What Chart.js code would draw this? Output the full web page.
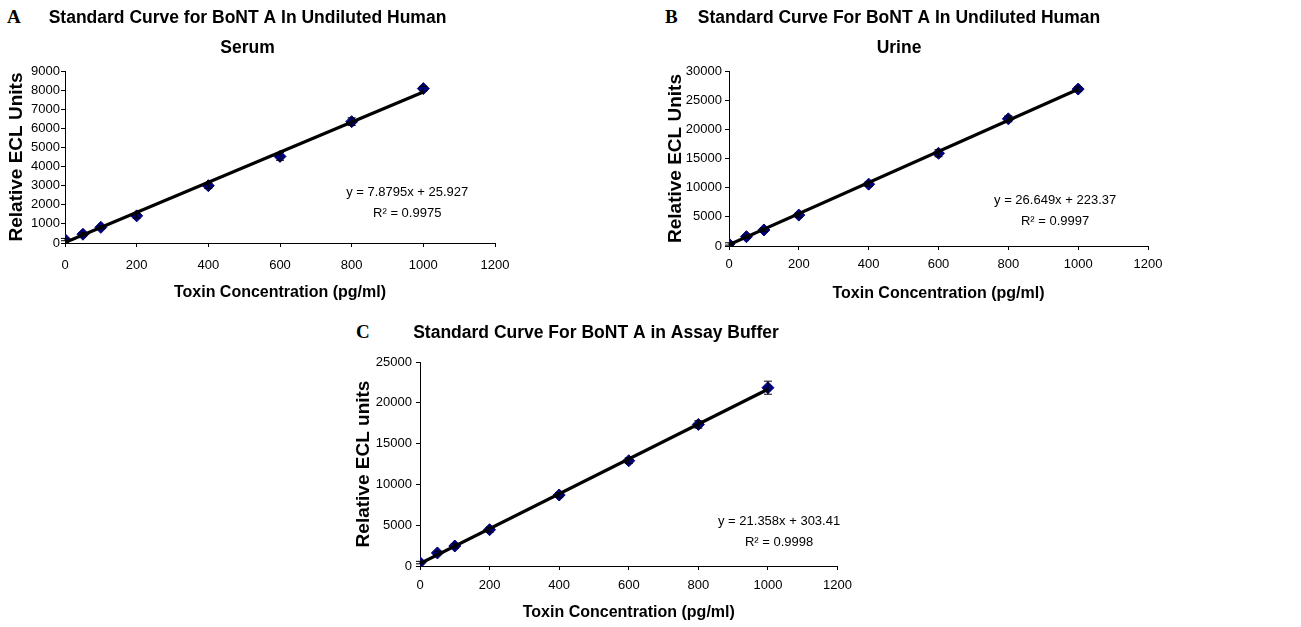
<!DOCTYPE html>
<html>
<head>
<meta charset="utf-8">
<script src="https://cdn.jsdelivr.net/npm/chart.js@4"></script>
<style>
  body { margin: 0; background: #fff; width: 1301px; height: 627px; position: relative; overflow: hidden; }
  canvas { position: absolute; }
  .panel { position: absolute; font-family: "Liberation Serif", "Times New Roman", serif; font-weight: bold; font-size: 19px; color: #000; }
</style>
</head>
<body>
<div class="panel" style="left:7px; top:6px;">A</div>
<div class="panel" style="left:665px; top:6px;">B</div>
<div class="panel" style="left:356px; top:321px;">C</div>

<canvas id="chartA" width="522" height="310" style="left:0; top:0;"></canvas>
<canvas id="chartB" width="532" height="310" style="left:650px; top:0;"></canvas>
<canvas id="chartC" width="510" height="327" style="left:350px; top:300px;"></canvas>

<script>
/* ================= DATA ================= */
const conc = [0, 50, 100, 200, 400, 600, 800, 1000];

const serumEcl = [180, 460, 820, 1420, 3000, 4530, 6350, 8080];
const serumErr = [60, 80, 90, 120, 150, 200, 200, 120];
const serumFit = { slope: 7.8795, intercept: 25.927, r2: "0.9975" };

const urineEcl = [350, 1600, 2750, 5300, 10600, 15900, 21800, 26900];
const urineErr = [200, 300, 300, 400, 400, 600, 500, 400];
const urineFit = { slope: 26.649, intercept: 223.37, r2: "0.9997" };

const bufferEcl = [420, 1600, 2450, 4450, 8700, 12900, 17350, 21850];
const bufferErr = [150, 200, 250, 300, 300, 350, 450, 800];
const bufferFit = { slope: 21.358, intercept: 303.41, r2: "0.9998" };

const xTicks = [0, 200, 400, 600, 800, 1000, 1200];

const FONT = "'Liberation Sans', Arial, Helvetica, sans-serif";
const MARKER = "#00007a";

/* ================= PLUGINS ================= */
const errorBars = {
  id: "errorBars",
  afterDatasetsDraw(chart) {
    const { ctx, scales } = chart;
    chart.data.datasets.forEach((ds) => {
      if (!ds.errors) return;
      ctx.save();
      ctx.strokeStyle = "#000";
      ctx.lineWidth = 1;
      ds.data.forEach((p, i) => {
        const e = ds.errors[i];
        const x = scales.x.getPixelForValue(p.x);
        const y1 = scales.y.getPixelForValue(p.y + e);
        const y2 = scales.y.getPixelForValue(p.y - e);
        ctx.beginPath();
        ctx.moveTo(x, y1); ctx.lineTo(x, y2);
        ctx.moveTo(x - 4, y1); ctx.lineTo(x + 4, y1);
        ctx.moveTo(x - 4, y2); ctx.lineTo(x + 4, y2);
        ctx.stroke();
      });
      ctx.restore();
    });
  }
};

const equation = {
  id: "equation",
  afterDraw(chart, args, opts) {
    if (!opts.lines) return;
    const { ctx, scales } = chart;
    const x = scales.x.getPixelForValue(opts.x);
    const y = scales.y.getPixelForValue(opts.y);
    ctx.save();
    ctx.font = "13px " + FONT;
    ctx.fillStyle = "#000";
    ctx.textAlign = "center";
    ctx.textBaseline = "middle";
    opts.lines.forEach((t, i) => ctx.fillText(t, x, y + i * 21));
    ctx.restore();
  }
};

/* ================= CHART BUILDER ================= */
function makeChart(id, cfg) {
  const fitX = [0, 1000];
  const fitLine = fitX.map((x) => ({ x, y: cfg.fit.slope * x + cfg.fit.intercept }));
  const points = conc.map((x, i) => ({ x, y: cfg.values[i] }));

  return new Chart(document.getElementById(id), {
    type: "scatter",
    data: {
      datasets: [
        {
          type: "line",
          data: fitLine,
          borderColor: "#000",
          borderWidth: 3.2,
          pointRadius: 0,
          order: 0
        },
        {
          data: points,
          errors: cfg.errors,
          pointStyle: "rectRot",
          pointRadius: 6,
          backgroundColor: MARKER,
          borderColor: MARKER,
          borderWidth: 1,
          order: 1
        }
      ]
    },
    options: {
      responsive: false,
      animation: false,
      events: [],
      layout: { padding: { top: 0, left: 0, right: cfg.padRight, bottom: 0 } },
      plugins: {
        legend: { display: false },
        tooltip: { enabled: false },
        title: {
          display: true,
          text: cfg.title,
          color: "#000",
          font: { family: FONT, size: 17.5, weight: "bold", lineHeight: 30 / 17.5 },
          padding: cfg.titlePad
        },
        equation: {
          lines: ["y = " + cfg.fit.slope + "x + " + cfg.fit.intercept, "R\u00b2 = " + cfg.fit.r2],
          x: cfg.eqX,
          y: cfg.eqY
        }
      },
      scales: {
        x: {
          type: "linear",
          min: 0,
          max: 1200,
          afterBuildTicks: (s) => { s.ticks = xTicks.map((v) => ({ value: v })); },
          afterFit: (s) => { s.height = cfg.xHeight; },
          ticks: { color: "#000", font: { family: FONT, size: 13 }, padding: cfg.xTickPad, maxRotation: 0, callback: (v) => String(v) },
          grid: { drawOnChartArea: false, color: "#000", tickLength: 4 },
          border: { color: "#000", width: 1 },
          title: {
            display: true,
            text: "Toxin Concentration (pg/ml)",
            color: "#000",
            font: { family: FONT, size: 16, weight: "bold" },
            padding: { top: 0, bottom: cfg.xTitlePad }
          }
        },
        y: {
          min: 0,
          max: cfg.yMax,
          ticks: { stepSize: cfg.yStep, color: "#000", font: { family: FONT, size: 13 }, padding: cfg.yTickPad, callback: (v) => String(v) },
          afterFit: (s) => { s.width = cfg.yWidth; },
          grid: { drawOnChartArea: false, color: "#000", tickLength: 4 },
          border: { color: "#000", width: 1 },
          title: {
            display: true,
            text: cfg.yTitle,
            color: "#000",
            font: { family: FONT, size: 19, weight: "bold" },
            padding: { top: cfg.yTitlePad, bottom: 0 }
          }
        }
      }
    },
    plugins: [errorBars, equation]
  });
}

/* ================= CHARTS ================= */
makeChart("chartA", {
  title: ["Standard Curve for BoNT A In Undiluted Human", "Serum"],
  titlePad: { top: 3, bottom: 8 },
  values: serumEcl, errors: serumErr, fit: serumFit,
  yMax: 9000, yStep: 1000, yTitle: "Relative ECL Units",
  padRight: 27, xHeight: 67, xTickPad: 11, xTitlePad: 8,
  yWidth: 65, yTickPad: 1, yTitlePad: 5,
  eqX: 955, eqY: 2670
});

makeChart("chartB", {
  title: ["Standard Curve For BoNT A In Undiluted Human", "Urine"],
  titlePad: { top: 3, bottom: 8 },
  values: urineEcl, errors: urineErr, fit: urineFit,
  yMax: 30000, yStep: 5000, yTitle: "Relative ECL Units",
  padRight: 34, xHeight: 64, xTickPad: 7, xTitlePad: 7,
  yWidth: 79, yTickPad: 3, yTitlePad: 14,
  eqX: 934, eqY: 7890
});

makeChart("chartC", {
  title: "Standard Curve For BoNT A in Assay Buffer",
  titlePad: { top: 18, bottom: 14 },
  values: bufferEcl, errors: bufferErr, fit: bufferFit,
  yMax: 25000, yStep: 5000, yTitle: "Relative ECL units",
  padRight: 18, xHeight: 61, xTickPad: 8, xTitlePad: 5,
  yWidth: 70, yTickPad: 4, yTitlePad: 2,
  eqX: 1032, eqY: 5510
});
</script>
</body>
</html>
